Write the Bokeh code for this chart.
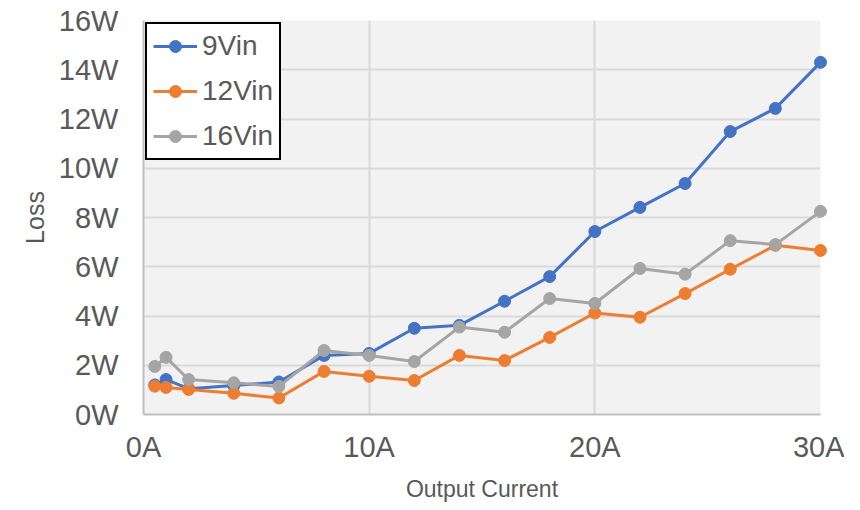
from bokeh.plotting import figure
from bokeh.models import Range1d, FixedTicker, Legend, LegendItem
from bokeh.embed import file_html
from bokeh.resources import INLINE

current = [0.5, 1, 2, 4, 6, 8, 10, 12, 14, 16, 18, 20, 22, 24, 26, 28, 30]
loss_9vin = [1.2, 1.42, 1.05, 1.18, 1.32, 2.4, 2.48, 3.5, 3.62, 4.6, 5.6, 7.43, 8.41, 9.38, 11.49, 12.43, 14.3]
loss_12vin = [1.15, 1.1, 1.02, 0.86, 0.67, 1.75, 1.55, 1.38, 2.4, 2.19, 3.13, 4.12, 3.95, 4.91, 5.9, 6.87, 6.66]
loss_16vin = [1.95, 2.32, 1.42, 1.29, 1.14, 2.6, 2.4, 2.15, 3.55, 3.34, 4.71, 4.51, 5.93, 5.7, 7.06, 6.9, 8.25]

x_ticks = [0, 10, 20, 30]
x_labels = ["0A", "10A", "20A", "30A"]
y_ticks = [0, 2, 4, 6, 8, 10, 12, 14, 16]
y_labels = ["0W", "2W", "4W", "6W", "8W", "10W", "12W", "14W", "16W"]

series = [("9Vin", loss_9vin, "#4472C4"),
          ("12Vin", loss_12vin, "#ED7D31"),
          ("16Vin", loss_16vin, "#A5A5A5")]

FONT = "Liberation Sans"
TXT = "#595959"

p = figure(width=844, height=504, output_backend="svg", toolbar_location=None,
           x_range=Range1d(0, 30), y_range=Range1d(0, 16),
           min_border_left=143, min_border_right=24, min_border_top=20, min_border_bottom=90)
p.background_fill_color = "#f2f2f2"
p.border_fill_color = "white"
p.outline_line_color = None

p.xaxis.ticker = FixedTicker(ticks=x_ticks)
p.yaxis.ticker = FixedTicker(ticks=y_ticks)
p.xaxis.major_label_overrides = {t: l for t, l in zip(x_ticks, x_labels)}
p.yaxis.major_label_overrides = {t: l for t, l in zip(y_ticks, y_labels)}

for ax in (p.xaxis, p.yaxis):
    ax.major_tick_line_color = None
    ax.minor_tick_line_color = None
    ax.axis_line_color = "#bfbfbf"
    ax.axis_line_width = 2
    ax.major_label_text_font = FONT
    ax.major_label_text_font_size = "29px"
    ax.major_label_text_color = TXT
    ax.axis_label_text_font = FONT
    ax.axis_label_text_font_size = "23px"
    ax.axis_label_text_color = TXT
    ax.axis_label_text_font_style = "normal"

p.yaxis.axis_label_text_font_size = "25px"
p.xaxis.axis_label = "Output Current"
p.yaxis.axis_label = "Loss"
p.xaxis.major_label_standoff = 10
p.yaxis.major_label_standoff = 19
p.xaxis.axis_label_standoff = 10
p.yaxis.axis_label_standoff = 7

p.xgrid.ticker = FixedTicker(ticks=x_ticks)
p.ygrid.ticker = FixedTicker(ticks=y_ticks)
for g in (p.xgrid, p.ygrid):
    g.grid_line_color = "#d9d9d9"
    g.grid_line_width = 2

items = []
for name, ys, col in series:
    r1 = p.line(current, ys, line_color=col, line_width=3)
    r2 = p.scatter(current, ys, size=12, fill_color=col, line_color=col)
    r1.level = "overlay"
    r2.level = "overlay"
    items.append(LegendItem(label=name, renderers=[r1, r2]))

legend = Legend(items=items, location="top_left", margin=2,
                border_line_color="black", border_line_width=2, border_line_alpha=1,
                background_fill_color="white", background_fill_alpha=1,
                label_text_font=FONT, label_text_font_size="28px", label_text_color=TXT,
                glyph_width=44, glyph_height=30, label_height=30,
                spacing=13, padding=6, label_standoff=5)
p.add_layout(legend)

open("out.html", "w").write(file_html(p, INLINE))
